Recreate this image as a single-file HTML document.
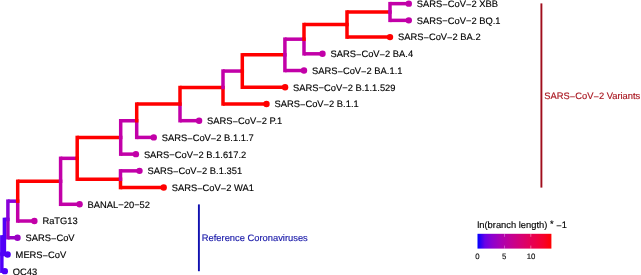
<!DOCTYPE html>
<html><head><meta charset="utf-8"><style>
html,body{margin:0;padding:0;background:#fff;}
body{width:641px;height:275px;overflow:hidden;}
svg{display:block;will-change:transform;}
text{text-rendering:geometricPrecision;font-family:"Liberation Sans",sans-serif;font-size:9.35px;fill:#000;stroke:#000;stroke-width:0.15px;}
text.tk{font-size:7.8px;fill:#111;stroke:#111;stroke-width:0.15px;}
</style></head><body>
<svg width="641" height="275" viewBox="0 0 641 275">
<defs><linearGradient id="lg" x1="0" x2="1" y1="0" y2="0">
<stop offset="0" stop-color="#0000ff"/><stop offset="0.1" stop-color="#6800e7"/><stop offset="0.2" stop-color="#8d00ce"/><stop offset="0.3" stop-color="#a600b7"/><stop offset="0.4" stop-color="#ba009f"/><stop offset="0.5" stop-color="#ca0088"/><stop offset="0.6" stop-color="#d70072"/><stop offset="0.7" stop-color="#e3005b"/><stop offset="0.8" stop-color="#ed0044"/><stop offset="0.9" stop-color="#f6002a"/><stop offset="1" stop-color="#ff0000"/>
</linearGradient></defs>
<g fill="none" stroke-width="3.5" stroke-linecap="square">
<line x1="390.00" y1="3.65" x2="408.80" y2="3.65" stroke="#c200a8" stroke-linecap="butt"/>
<line x1="390.00" y1="20.37" x2="408.80" y2="20.37" stroke="#c200a8" stroke-linecap="butt"/>
<line x1="347.00" y1="12.01" x2="390.00" y2="12.01" stroke="#ff0000" stroke-linecap="butt"/>
<line x1="347.00" y1="37.09" x2="390.00" y2="37.09" stroke="#ff0000" stroke-linecap="butt"/>
<line x1="304.00" y1="24.55" x2="347.00" y2="24.55" stroke="#ff0000" stroke-linecap="butt"/>
<line x1="304.00" y1="53.81" x2="322.50" y2="53.81" stroke="#c200a8" stroke-linecap="butt"/>
<line x1="284.90" y1="39.18" x2="304.00" y2="39.18" stroke="#c200a8" stroke-linecap="butt"/>
<line x1="284.90" y1="70.53" x2="304.00" y2="70.53" stroke="#c200a8" stroke-linecap="butt"/>
<line x1="242.30" y1="54.85" x2="284.90" y2="54.85" stroke="#ff0000" stroke-linecap="butt"/>
<line x1="242.30" y1="87.25" x2="285.10" y2="87.25" stroke="#ff0000" stroke-linecap="butt"/>
<line x1="223.00" y1="71.05" x2="242.30" y2="71.05" stroke="#c200a8" stroke-linecap="butt"/>
<line x1="223.00" y1="103.97" x2="266.50" y2="103.97" stroke="#ff0000" stroke-linecap="butt"/>
<line x1="180.00" y1="87.51" x2="223.00" y2="87.51" stroke="#ff0000" stroke-linecap="butt"/>
<line x1="180.00" y1="120.69" x2="199.10" y2="120.69" stroke="#c200a8" stroke-linecap="butt"/>
<line x1="136.70" y1="104.10" x2="180.00" y2="104.10" stroke="#ff0000" stroke-linecap="butt"/>
<line x1="136.70" y1="137.41" x2="153.75" y2="137.41" stroke="#c200a8" stroke-linecap="butt"/>
<line x1="120.70" y1="120.76" x2="136.70" y2="120.76" stroke="#c200a8" stroke-linecap="butt"/>
<line x1="120.70" y1="154.13" x2="135.90" y2="154.13" stroke="#c200a8" stroke-linecap="butt"/>
<line x1="120.50" y1="170.85" x2="139.50" y2="170.85" stroke="#c200a8" stroke-linecap="butt"/>
<line x1="120.50" y1="187.57" x2="163.70" y2="187.57" stroke="#ff0000" stroke-linecap="butt"/>
<line x1="77.20" y1="137.44" x2="120.70" y2="137.44" stroke="#ff0000" stroke-linecap="butt"/>
<line x1="77.20" y1="179.21" x2="120.50" y2="179.21" stroke="#ff0000" stroke-linecap="butt"/>
<line x1="60.60" y1="158.33" x2="77.20" y2="158.33" stroke="#c200a8" stroke-linecap="butt"/>
<line x1="60.60" y1="204.29" x2="79.60" y2="204.29" stroke="#c200a8" stroke-linecap="butt"/>
<line x1="17.70" y1="181.31" x2="60.60" y2="181.31" stroke="#ff0000" stroke-linecap="butt"/>
<line x1="17.70" y1="221.01" x2="34.40" y2="221.01" stroke="#c200a8" stroke-linecap="butt"/>
<line x1="7.90" y1="201.16" x2="17.70" y2="201.16" stroke="#8a00d8" stroke-linecap="butt"/>
<line x1="7.90" y1="237.73" x2="17.50" y2="237.73" stroke="#9a00c4" stroke-linecap="butt"/>
<line x1="4.40" y1="219.44" x2="7.90" y2="219.44" stroke="#5000f8" stroke-linecap="butt"/>
<line x1="4.40" y1="254.45" x2="7.60" y2="254.45" stroke="#5000f8" stroke-linecap="butt"/>
<line x1="1.85" y1="236.95" x2="4.40" y2="236.95" stroke="#5000f8" stroke-linecap="butt"/>
<line x1="1.85" y1="271.17" x2="4.80" y2="271.17" stroke="#5000f8" stroke-linecap="butt"/>
<line x1="390.00" y1="12.01" x2="390.00" y2="20.37" stroke="#c200a8"/>
<line x1="390.00" y1="12.01" x2="390.00" y2="3.65" stroke="#c200a8"/>
<line x1="347.00" y1="24.55" x2="347.00" y2="37.09" stroke="#ff0000"/>
<line x1="347.00" y1="24.55" x2="347.00" y2="12.01" stroke="#ff0000"/>
<line x1="304.00" y1="39.18" x2="304.00" y2="53.81" stroke="#c200a8"/>
<line x1="304.00" y1="39.18" x2="304.00" y2="24.55" stroke="#ff0000"/>
<line x1="284.90" y1="54.85" x2="284.90" y2="70.53" stroke="#c200a8"/>
<line x1="284.90" y1="54.85" x2="284.90" y2="39.18" stroke="#c200a8"/>
<line x1="242.30" y1="71.05" x2="242.30" y2="87.25" stroke="#ff0000"/>
<line x1="242.30" y1="71.05" x2="242.30" y2="54.85" stroke="#ff0000"/>
<line x1="223.00" y1="87.51" x2="223.00" y2="103.97" stroke="#ff0000"/>
<line x1="223.00" y1="87.51" x2="223.00" y2="71.05" stroke="#c200a8"/>
<line x1="180.00" y1="104.10" x2="180.00" y2="120.69" stroke="#c200a8"/>
<line x1="180.00" y1="104.10" x2="180.00" y2="87.51" stroke="#ff0000"/>
<line x1="136.70" y1="120.76" x2="136.70" y2="137.41" stroke="#c200a8"/>
<line x1="136.70" y1="120.76" x2="136.70" y2="104.10" stroke="#ff0000"/>
<line x1="120.70" y1="137.44" x2="120.70" y2="154.13" stroke="#c200a8"/>
<line x1="120.70" y1="137.44" x2="120.70" y2="120.76" stroke="#c200a8"/>
<line x1="120.50" y1="179.21" x2="120.50" y2="187.57" stroke="#ff0000"/>
<line x1="120.50" y1="179.21" x2="120.50" y2="170.85" stroke="#c200a8"/>
<line x1="77.20" y1="158.33" x2="77.20" y2="179.21" stroke="#ff0000"/>
<line x1="77.20" y1="158.33" x2="77.20" y2="137.44" stroke="#ff0000"/>
<line x1="60.60" y1="181.31" x2="60.60" y2="204.29" stroke="#c200a8"/>
<line x1="60.60" y1="181.31" x2="60.60" y2="158.33" stroke="#c200a8"/>
<line x1="17.70" y1="201.16" x2="17.70" y2="221.01" stroke="#c200a8"/>
<line x1="17.70" y1="201.16" x2="17.70" y2="181.31" stroke="#ff0000"/>
<line x1="7.90" y1="219.44" x2="7.90" y2="237.73" stroke="#9a00c4"/>
<line x1="7.90" y1="219.44" x2="7.90" y2="201.16" stroke="#8a00d8"/>
<line x1="4.40" y1="236.95" x2="4.40" y2="254.45" stroke="#5000f8"/>
<line x1="4.40" y1="236.95" x2="4.40" y2="219.44" stroke="#5000f8"/>
<line x1="1.85" y1="254.06" x2="1.85" y2="271.17" stroke="#5000f8"/>
<line x1="1.85" y1="254.06" x2="1.85" y2="236.95" stroke="#5000f8"/>
</g>
<g>
<circle cx="408.80" cy="3.65" r="3.2" fill="#c200a8"/>
<circle cx="408.80" cy="20.37" r="3.2" fill="#c200a8"/>
<circle cx="390.00" cy="37.09" r="3.2" fill="#ff0000"/>
<circle cx="322.50" cy="53.81" r="3.2" fill="#c200a8"/>
<circle cx="304.00" cy="70.53" r="3.2" fill="#c200a8"/>
<circle cx="285.10" cy="87.25" r="3.2" fill="#ff0000"/>
<circle cx="266.50" cy="103.97" r="3.2" fill="#ff0000"/>
<circle cx="199.10" cy="120.69" r="3.2" fill="#c200a8"/>
<circle cx="153.75" cy="137.41" r="3.2" fill="#c200a8"/>
<circle cx="135.90" cy="154.13" r="3.2" fill="#c200a8"/>
<circle cx="139.50" cy="170.85" r="3.2" fill="#c200a8"/>
<circle cx="163.70" cy="187.57" r="3.2" fill="#ff0000"/>
<circle cx="79.60" cy="204.29" r="3.2" fill="#c200a8"/>
<circle cx="34.40" cy="221.01" r="3.2" fill="#c200a8"/>
<circle cx="17.50" cy="237.73" r="3.2" fill="#9a00c4"/>
<circle cx="7.60" cy="254.45" r="3.2" fill="#5000f8"/>
<circle cx="4.80" cy="271.17" r="3.2" fill="#5000f8"/>
</g>
<g>
<text x="416.80" y="7.05">SARS<tspan dy="0.7">−</tspan><tspan dy="-0.7">CoV</tspan><tspan dy="0.7">−</tspan><tspan dy="-0.7">2 XBB</tspan></text>
<text x="416.80" y="23.77">SARS<tspan dy="0.7">−</tspan><tspan dy="-0.7">CoV</tspan><tspan dy="0.7">−</tspan><tspan dy="-0.7">2 BQ.1</tspan></text>
<text x="398.00" y="40.49">SARS<tspan dy="0.7">−</tspan><tspan dy="-0.7">CoV</tspan><tspan dy="0.7">−</tspan><tspan dy="-0.7">2 BA.2</tspan></text>
<text x="330.50" y="57.21">SARS<tspan dy="0.7">−</tspan><tspan dy="-0.7">CoV</tspan><tspan dy="0.7">−</tspan><tspan dy="-0.7">2 BA.4</tspan></text>
<text x="312.00" y="73.93">SARS<tspan dy="0.7">−</tspan><tspan dy="-0.7">CoV</tspan><tspan dy="0.7">−</tspan><tspan dy="-0.7">2 BA.1.1</tspan></text>
<text x="293.10" y="90.65">SARS<tspan dy="0.7">−</tspan><tspan dy="-0.7">CoV</tspan><tspan dy="0.7">−</tspan><tspan dy="-0.7">2 B.1.1.529</tspan></text>
<text x="274.50" y="107.37">SARS<tspan dy="0.7">−</tspan><tspan dy="-0.7">CoV</tspan><tspan dy="0.7">−</tspan><tspan dy="-0.7">2 B.1.1</tspan></text>
<text x="207.10" y="124.09">SARS<tspan dy="0.7">−</tspan><tspan dy="-0.7">CoV</tspan><tspan dy="0.7">−</tspan><tspan dy="-0.7">2 P.1</tspan></text>
<text x="161.75" y="140.81">SARS<tspan dy="0.7">−</tspan><tspan dy="-0.7">CoV</tspan><tspan dy="0.7">−</tspan><tspan dy="-0.7">2 B.1.1.7</tspan></text>
<text x="143.90" y="157.53">SARS<tspan dy="0.7">−</tspan><tspan dy="-0.7">CoV</tspan><tspan dy="0.7">−</tspan><tspan dy="-0.7">2 B.1.617.2</tspan></text>
<text x="147.50" y="174.25">SARS<tspan dy="0.7">−</tspan><tspan dy="-0.7">CoV</tspan><tspan dy="0.7">−</tspan><tspan dy="-0.7">2 B.1.351</tspan></text>
<text x="171.70" y="190.97">SARS<tspan dy="0.7">−</tspan><tspan dy="-0.7">CoV</tspan><tspan dy="0.7">−</tspan><tspan dy="-0.7">2 WA1</tspan></text>
<text x="87.60" y="207.69">BANAL<tspan dy="0.7">−</tspan><tspan dy="-0.7">20</tspan><tspan dy="0.7">−</tspan><tspan dy="-0.7">52</tspan></text>
<text x="42.40" y="224.41">RaTG13</text>
<text x="25.50" y="241.13">SARS<tspan dy="0.7">−</tspan><tspan dy="-0.7">CoV</tspan></text>
<text x="15.60" y="257.85">MERS<tspan dy="0.7">−</tspan><tspan dy="-0.7">CoV</tspan></text>
<text x="12.80" y="274.57">OC43</text>
</g>
<line x1="541.4" y1="3.4" x2="541.4" y2="187.6" stroke="#a00d1c" stroke-width="1.9"/>
<text x="544.3" y="99" style="fill:#a8141e;stroke:#a8141e">SARS<tspan dy="0.7">−</tspan><tspan dy="-0.7">CoV</tspan><tspan dy="0.7">−</tspan><tspan dy="-0.7">2 Variants</tspan></text>
<line x1="198.9" y1="204.4" x2="198.9" y2="271.2" stroke="#1010b0" stroke-width="1.9"/>
<text x="201.8" y="240.6" style="fill:#1818a8;stroke:#1818a8">Reference Coronaviruses</text>
<text x="477.2" y="228.1">ln(branch length) <tspan dy="-1.6">*</tspan><tspan dy="1.6"> </tspan><tspan dy="0.7">−</tspan><tspan dy="-0.7">1</tspan></text>
<rect x="477.5" y="233.8" width="73.9" height="14.8" fill="url(#lg)"/>
<g stroke="#fff" stroke-width="0.5" opacity="0.8">
<line x1="504.3" y1="233.8" x2="504.3" y2="236.8"/><line x1="504.3" y1="245.6" x2="504.3" y2="248.6"/>
<line x1="530.8" y1="233.8" x2="530.8" y2="236.8"/><line x1="530.8" y1="245.6" x2="530.8" y2="248.6"/>
</g>
<g text-anchor="middle">
<text class="tk" x="477.45" y="258.9">0</text><text class="tk" x="504.15" y="258.9">5</text><text class="tk" x="531.1" y="258.9">10</text>
</g>
</svg>
</body></html>
